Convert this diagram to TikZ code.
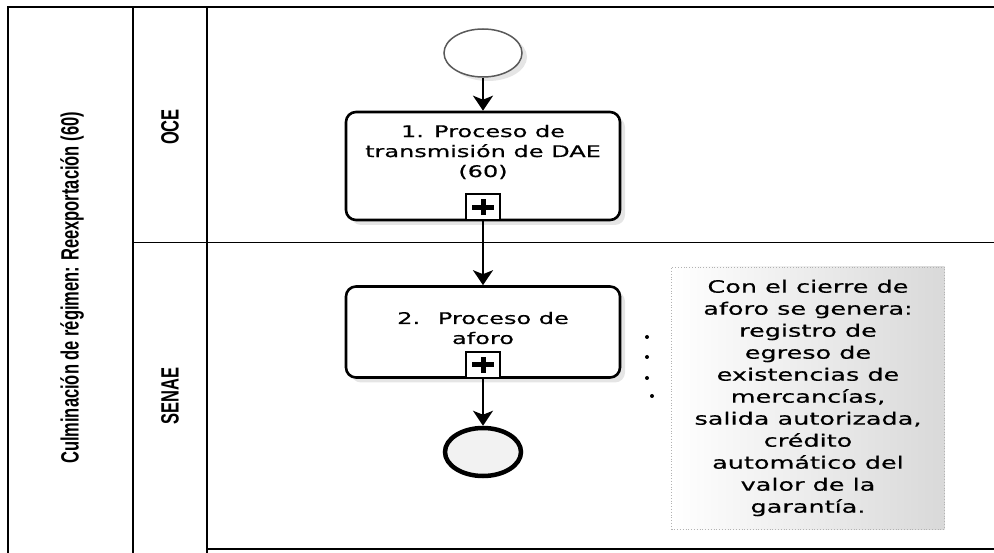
\documentclass[tikz,border=0pt]{standalone}
\usepackage{fontspec}
\newfontfamily\bpmnfont[FakeStretch=1.5,FakeBold=0.5]{DejaVu Sans}
\newfontfamily\lanefont[FakeStretch=0.66]{Liberation Sans}
\usetikzlibrary{arrows.meta,shapes.geometric,shadows}

\tikzset{
  lane/.style={line width=2.4pt},
  task/.style={draw, line width=2.6pt, rounded corners=10pt, minimum width=274pt, fill=white,
    drop shadow={fill=gray!40, shadow xshift=5pt, shadow yshift=-5pt}},
  plusbox/.style={draw, line width=2.2pt, fill=white, minimum width=34pt, minimum height=26pt, inner sep=0pt},
  startev/.style={ellipse, draw=gray!70!black, line width=1.5pt, minimum width=78pt, minimum height=48pt, fill=white,
    drop shadow={fill=gray!40, shadow xshift=5pt, shadow yshift=-4pt}},
  finishev/.style={ellipse, draw, line width=4.5pt, minimum width=76pt, minimum height=48pt, fill=gray!10},
  flow/.style={line width=1.8pt, -{Stealth[length=15pt,width=20pt,inset=4pt]}},
  lanetext/.style={rotate=90, font=\lanefont\bfseries\fontsize{25}{28}\selectfont},
  tasktext/.style={align=center, font=\bpmnfont\fontsize{16}{20}\selectfont},
  note/.style={draw=gray!60, dotted, line width=0.8pt, left color=white, right color=gray!30,
    minimum width=273pt, minimum height=262pt, align=center, font=\bpmnfont\fontsize{17}{22}\selectfont}
}

\begin{document}
\begin{tikzpicture}[x=1pt,y=-1pt]
    \useasboundingbox (0,0) rectangle (994,553);
    \draw[lane] (8,553) -- (8,7) -- (994,7);
    \draw[lane] (133,7) -- (133,553);
    \draw[lane] (207,7) -- (207,553);
    \draw[line width=1pt] (133,243) -- (994,243);
    \draw[lane] (207,549) -- (994,549);

    \node[lanetext] (pool) at (72,288) {Culminación de régimen: Reexportación (60)};
    \node[lanetext] (oce) at (170,127) {OCE};
    \node[lanetext] (senae) at (170,396) {SENAE};

    \node[startev] (start) at (483,53) {};
    \node[task, minimum height=108pt] (t1) at (483,166) {};
    \node[tasktext] (t1text) at (483,152) {1. Proceso de\\transmisión de DAE\\(60)};
    \node[plusbox, anchor=south] (t1plus) at (t1.south) {};
    \node[task, minimum height=91pt] (t2) at (483,332) {};
    \node[tasktext] (t2text) at (483,328) {2.~ Proceso de\\aforo};
    \node[plusbox, anchor=south] (t2plus) at (t2.south) {};
    \node[finishev] (finish) at (483,452) {};

    \foreach \p in {t1plus,t2plus} {
      \draw[line width=5pt] ([xshift=-11pt]\p.center) -- ([xshift=11pt]\p.center);
      \draw[line width=5pt] ([yshift=-8pt]\p.center) -- ([yshift=8pt]\p.center);
    }

    \draw[flow] (start) -- (t1);
    \draw[flow] (t1plus) -- (t2);
    \draw[flow] (t2plus) -- (finish);

    \node[note] (nota) at (808,398) {Con el cierre de\\aforo se genera:\\registro de\\egreso de\\existencias de\\mercancías,\\salida autorizada,\\crédito\\automático del\\valor de la\\garantía.};
    \foreach \y in {337,357,378} \fill (647,\y) circle (2);
    \fill (652,396) circle (2);
\end{tikzpicture}
\end{document}
